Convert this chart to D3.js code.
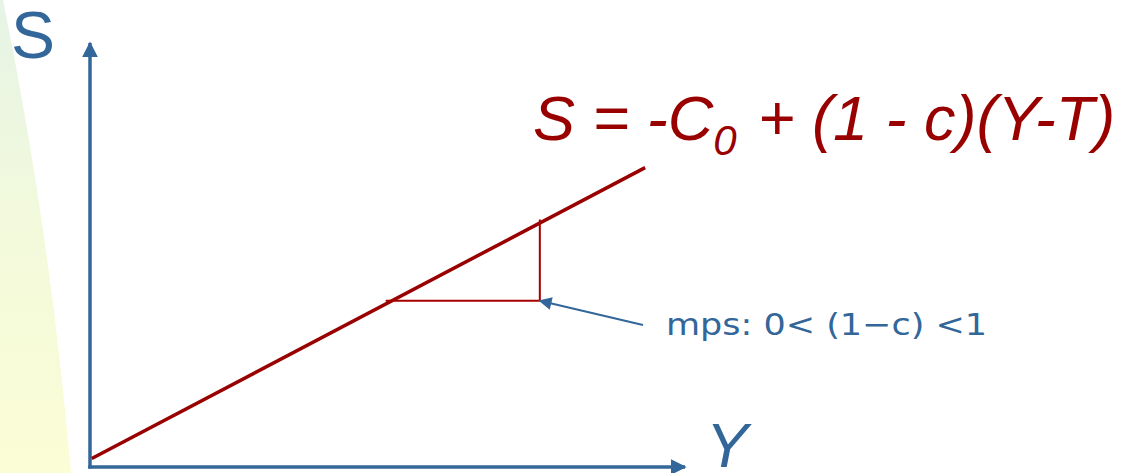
<!DOCTYPE html>
<html lang="en">
    <head>
        <meta charset="utf-8">
        <title>Savings function</title>
        <script type="text/javascript" src="https://d3js.org/d3.v7.min.js"></script>
        <style type="text/css">
            body {
                margin: 0;
                background: white;
            }
            svg {
                display: block;
            }
        </style>
    </head>
    <body>
        <script type="text/javascript">

        // axis domains (income Y, saving S)
        const incomeDomain = [0, 10];
        const savingDomain = [0, 10];

        // saving line S = -C0 + (1 - c)(Y - T), two end points
        const lineIncome = [0.03, 9.33];
        const lineSaving = [0.2, 7.06];

        // slope triangle: run from income a to b at saving level base
        const triIncome = [4.97, 7.56];
        const triSaving = [3.92, 5.84];

        const axisLabels = ["Y", "S"];
        const mpsLabel = "mps: 0< (1\u2212c) <1";

        const width = 1128;
        const height = 473;

        const blue = "#336699";
        const red = "#990000";

        const xScale = d3.scaleLinear()
                        .domain(incomeDomain)
                        .range([90, 685]);

        const yScale = d3.scaleLinear()
                        .domain(savingDomain)
                        .range([467, 43]);

        const svg = d3.select("body")
                    .append("svg")
                    .attr("width", width)
                    .attr("height", height);

        //background swoosh on the left
        const defs = svg.append("defs");
        const grad = defs.append("linearGradient")
                        .attr("id", "bg")
                        .attr("x1", 0).attr("y1", 0)
                        .attr("x2", 0).attr("y2", 1);
        grad.append("stop").attr("offset", "0%").attr("stop-color", "#e6f4e6");
        grad.append("stop").attr("offset", "45%").attr("stop-color", "#f2f9dc");
        grad.append("stop").attr("offset", "100%").attr("stop-color", "#fbfdd5");

        svg.append("path")
            .attr("d", "M0,0 L3,0 Q50,230 71,473 L0,473 Z")
            .attr("fill", "url(#bg)");

        //arrow markers
        const marker = defs.append("marker")
                        .attr("id", "head")
                        .attr("viewBox", "0 0 10 10")
                        .attr("refX", 9)
                        .attr("refY", 5)
                        .attr("markerUnits", "userSpaceOnUse")
                        .attr("markerWidth", 16)
                        .attr("markerHeight", 16)
                        .attr("orient", "auto");
        marker.append("path")
            .attr("d", "M0,0 L10,5 L0,10 Z")
            .attr("fill", blue);

        const small = defs.append("marker")
                        .attr("id", "headSmall")
                        .attr("viewBox", "0 0 10 10")
                        .attr("refX", 9)
                        .attr("refY", 5)
                        .attr("markerUnits", "userSpaceOnUse")
                        .attr("markerWidth", 15)
                        .attr("markerHeight", 13)
                        .attr("orient", "auto");
        small.append("path")
            .attr("d", "M0,0 L10,5 L0,10 Z")
            .attr("fill", blue);

        //axes
        svg.append("line")
            .attr("x1", xScale(0)).attr("y1", yScale(0) + 1.5)
            .attr("x2", xScale(0)).attr("y2", yScale(savingDomain[1]))
            .attr("stroke", blue)
            .attr("stroke-width", 3.5)
            .attr("marker-end", "url(#head)");

        svg.append("line")
            .attr("x1", xScale(0) - 1.75).attr("y1", yScale(0))
            .attr("x2", xScale(incomeDomain[1])).attr("y2", yScale(0))
            .attr("stroke", blue)
            .attr("stroke-width", 3.5)
            .attr("marker-end", "url(#head)");

        //saving line
        const pts = lineIncome.map((d, i) => [xScale(d), yScale(lineSaving[i])]);
        svg.append("path")
            .attr("d", d3.line()(pts))
            .attr("fill", "none")
            .attr("stroke", red)
            .attr("stroke-width", 3.5);

        //slope triangle
        svg.append("path")
            .attr("d", d3.line()([
                [xScale(triIncome[0]), yScale(triSaving[0])],
                [xScale(triIncome[1]), yScale(triSaving[0])],
                [xScale(triIncome[1]), yScale(triSaving[1])]
            ]))
            .attr("fill", "none")
            .attr("stroke", "#a80000")
            .attr("stroke-width", 2);

        //pointer to the triangle corner
        svg.append("line")
            .attr("x1", 643).attr("y1", 325)
            .attr("x2", xScale(triIncome[1])).attr("y2", yScale(triSaving[0]))
            .attr("stroke", blue)
            .attr("stroke-width", 2)
            .attr("marker-end", "url(#headSmall)");

        svg.append("text")
            .attr("x", 666)
            .attr("y", 335)
            .attr("font-family", "DejaVu Sans Condensed, DejaVu Sans, sans-serif")
            .attr("font-size", "31px")
            .attr("fill", blue)
            .attr("textLength", 321)
            .attr("lengthAdjust", "spacingAndGlyphs")
            .text(mpsLabel);

        //axis labels
        svg.append("text")
            .attr("x", 706)
            .attr("y", 467)
            .attr("font-family", "Liberation Sans, Arial, sans-serif")
            .attr("font-style", "italic")
            .attr("font-size", "63px")
            .attr("fill", blue)
            .text(axisLabels[0]);

        svg.append("text")
            .attr("x", 11)
            .attr("y", 58)
            .attr("font-family", "Liberation Sans, Arial, sans-serif")
            .attr("font-size", "66px")
            .attr("fill", blue)
            .text(axisLabels[1]);

        //equation
        const eq = svg.append("text")
                    .attr("y", 140)
                    .attr("font-family", "Liberation Sans, Arial, sans-serif")
                    .attr("font-style", "italic")
                    .attr("font-size", "63px")
                    .attr("fill", red);
        eq.append("tspan").attr("x", 533).text("S = -C");
        eq.append("tspan")
            .attr("font-size", "42px")
            .attr("dy", 15)
            .text("0");
        eq.append("tspan")
            .attr("x", 758)
            .attr("dy", -15)
            .text("+");
        eq.append("tspan")
            .attr("x", 812)
            .text("(1 - c)(Y-T)");

        </script>
    </body>
</html>
